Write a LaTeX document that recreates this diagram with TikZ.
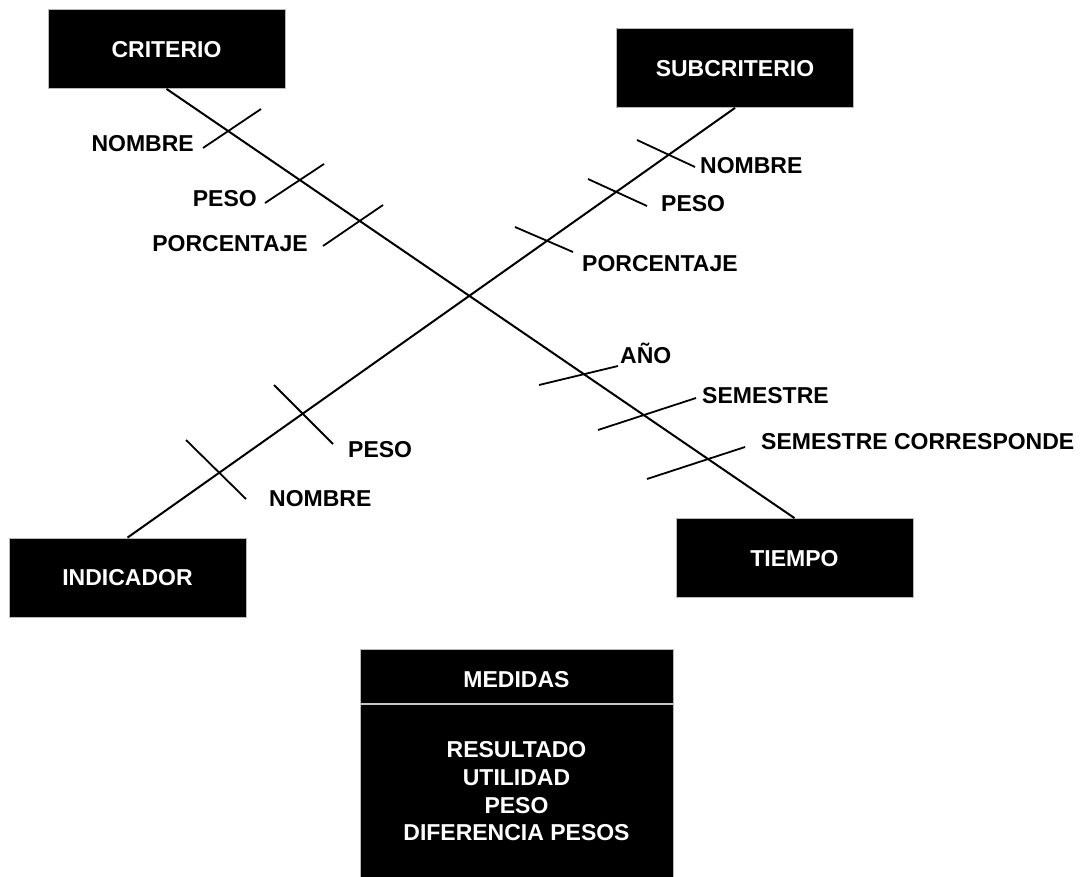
\documentclass[tikz,border=0pt]{standalone}
\usepackage{fontspec}
\setmainfont{Liberation Sans}
\begin{document}
\begin{tikzpicture}[x=1pt,y=-1pt,
  txt/.style={font=\bfseries\fontsize{23}{28}\selectfont, inner sep=0pt,
              text height=16.5pt, text depth=0pt},
  dimbox/.style={txt, fill=black, draw=gray!55, line width=0.8pt, text=white,
                 minimum width=237pt, minimum height=79pt},
  lbl/.style={txt, text=black},
  axis/.style={draw=black, line width=2pt},
  tick/.style={draw=black, line width=1.8pt}]
\useasboundingbox (0,0) rectangle (1083,877);

% dimension boxes
\node[dimbox] (crit)   at (166.5,49)  {CRITERIO};
\node[dimbox] (sub)    at (735,68)    {SUBCRITERIO};
\node[dimbox] (ind)    at (127.5,577.5) {INDICADOR};
\node[dimbox] (tiempo) at (794.5,558) {TIEMPO};

% the two axes crossing in the middle
\draw[axis] (crit.south) -- (tiempo.north);
\draw[axis] (sub.south) -- (ind.north);

% attribute ticks on the CRITERIO axis
\coordinate (ca1) at (203,148); \coordinate (cb1) at (261,109);
\coordinate (ca2) at (265,203); \coordinate (cb2) at (324,164);
\coordinate (ca3) at (323,246); \coordinate (cb3) at (383,205);
\draw[tick] (ca1) -- (cb1);
\draw[tick] (ca2) -- (cb2);
\draw[tick] (ca3) -- (cb3);
\node[lbl, anchor=east] (cn1) at (194,143) {NOMBRE};
\node[lbl, anchor=east] (cn2) at (257,198) {PESO};
\node[lbl, anchor=east] (cn3) at (308,243) {PORCENTAJE};

% attribute ticks on the SUBCRITERIO axis
\coordinate (sa1) at (637,140); \coordinate (sb1) at (695,167);
\coordinate (sa2) at (588,179); \coordinate (sb2) at (647,206);
\coordinate (sa3) at (515,227); \coordinate (sb3) at (573,252);
\draw[tick] (sa1) -- (sb1);
\draw[tick] (sa2) -- (sb2);
\draw[tick] (sa3) -- (sb3);
\node[lbl, anchor=west] (sn1) at (700,165) {NOMBRE};
\node[lbl, anchor=west] (sn2) at (661,203) {PESO};
\node[lbl, anchor=west] (sn3) at (582,263) {PORCENTAJE};

% attribute ticks on the INDICADOR axis
\coordinate (ia1) at (274,385); \coordinate (ib1) at (333,444);
\coordinate (ia2) at (186,440); \coordinate (ib2) at (246,499);
\draw[tick] (ia1) -- (ib1);
\draw[tick] (ia2) -- (ib2);
\node[lbl, anchor=west] (in1) at (348,449) {PESO};
\node[lbl, anchor=west] (in2) at (269,498) {NOMBRE};

% attribute ticks on the TIEMPO axis
\coordinate (ta1) at (539,385); \coordinate (tb1) at (618,366);
\coordinate (ta2) at (598,430); \coordinate (tb2) at (696,398);
\coordinate (ta3) at (647,479); \coordinate (tb3) at (745,447);
\draw[tick] (ta1) -- (tb1);
\draw[tick] (ta2) -- (tb2);
\draw[tick] (ta3) -- (tb3);
\node[lbl, anchor=west] (tn1) at (620,355) {AÑO};
\node[lbl, anchor=west] (tn2) at (702,395) {SEMESTRE};
\node[lbl, anchor=west] (tn3) at (761,441) {SEMESTRE CORRESPONDE};

% fact table of measures
\node[fill=black, draw=gray!55, line width=0.8pt, inner sep=0pt,
      minimum width=313pt, minimum height=232pt] (medbox) at (516.5,765) {};
\node[txt, text=white] (medtitle) at (516.5,679) {MEDIDAS};
\coordinate (divl) at (360,704);
\coordinate (divr) at (673,704);
\draw[gray!45, line width=1.8pt] (divl) -- (divr);
\node[font=\bfseries\fontsize{23}{27.7}\selectfont, text=white, align=center,
      inner sep=0pt] (medlist) at (516.5,791.5)
  {RESULTADO\\UTILIDAD\\PESO\\DIFERENCIA PESOS};
\end{tikzpicture}
\end{document}
